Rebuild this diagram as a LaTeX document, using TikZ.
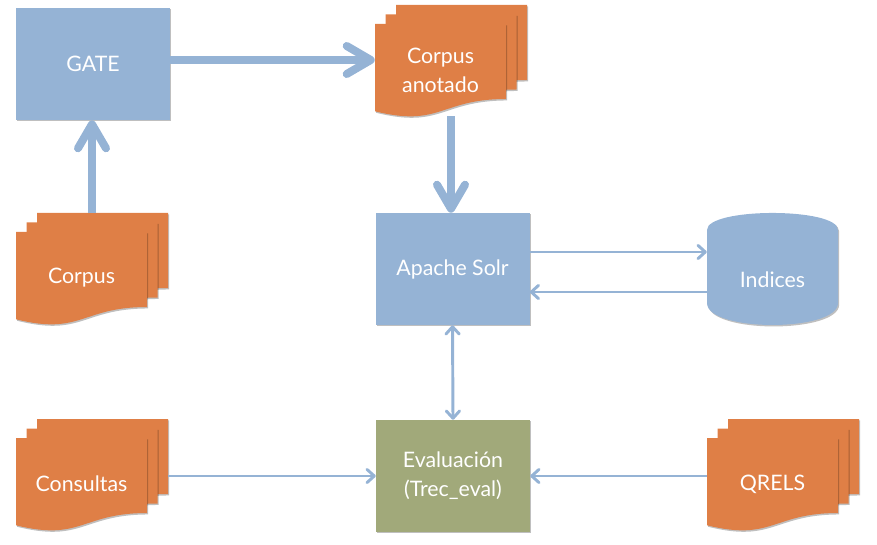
\documentclass[tikz,border=0pt]{standalone}
\usepackage{fontspec}
\setmainfont{Lato}
\usetikzlibrary{arrows.meta,fit,shadows}
\definecolor{boxblue}{RGB}{149,179,213}
\definecolor{docorange}{RGB}{223,127,70}
\definecolor{evalgreen}{RGB}{161,169,122}
\def\px{0.75pt}
\tikzset{
  softshadow/.style={drop shadow={shadow xshift=0.9pt, shadow yshift=-1.1pt, opacity=0.25, fill=black}},
  lbl/.style={text=white, font=\fontsize{16}{21.75}\selectfont, align=center},
  procbox/.style={rectangle, fill=#1, minimum width=154*\px, minimum height=112*\px, inner sep=0pt, softshadow},
  helper/.style={inner sep=0pt, draw=none},
  bigarrow/.style={draw=boxblue, line width=6pt, line cap=butt, -{Straight Barb[round, length=18pt, width=21pt]}},
  thinarrow/.style={draw=boxblue, line width=2.2pt, line cap=butt, -{Straight Barb[round, length=5.5pt, width=10pt]}},
  thinboth/.style={draw=boxblue, line width=2.2pt, line cap=butt, {Straight Barb[round, length=5.5pt, width=10pt]}-{Straight Barb[round, length=5.5pt, width=10pt]}},
}
\newcommand\docsheet[2]{%
  \begin{scope}[shift={(#1,#2)}]
    \fill[docorange, softshadow] (0,0) -- (131,0) -- (131,75)
      .. controls (65.5,75) and (65.5,103.6) .. (0,87.3) -- cycle;
  \end{scope}}
\newcommand\multidoc[4]{%
  \docsheet{#2+21}{#3-19}
  \docsheet{#2+10.5}{#3-9.5}
  \docsheet{#2}{#3}
  \node[helper, fit={(#2,#3-19) (#2+152,#3+92)}] (#1) {};
  \node[lbl] (#1-t) at (#2+65.5,#3+46) {#4};}
\begin{document}
\begin{tikzpicture}[x=0.75pt, y=-0.75pt]
\useasboundingbox (0,0) rectangle (877,545);

% process boxes
\node[procbox=boxblue, lbl] (gate) at (93,64) {GATE};
\node[procbox=boxblue, lbl] (solr) at (452.5,269) {Apache Solr};
\node[procbox=evalgreen, lbl] (eval) at (453,476) {Evaluación\\(Trec\_eval)};

% documents
\multidoc{corpus}{16}{232}{Corpus}
\multidoc{anot}{375}{24}{Corpus\\anotado}
\multidoc{cons}{16}{438}{Consultas}
\multidoc{qrels}{707}{438}{QRELS}

% database cylinder
\fill[boxblue, softshadow] (707,230) .. controls (707,207.3) and (838,207.3) .. (838,230)
  -- (838,303) .. controls (838,332.3) and (707,332.3) .. (707,303) -- cycle;
\node[helper, fit={(707,213) (838,325)}] (idx) {};
\node[lbl] (idx-t) at (772.5,280) {Indices};

% connectors
\draw[bigarrow] ([yshift=3pt]gate.east) -- ([yshift=3pt]gate.east -| anot.west);
\draw[bigarrow] (corpus.north) -- (corpus.north |- gate.south);
\draw[bigarrow] (anot.south) -- (anot.south |- solr.north);
\draw[thinarrow] ([yshift=12.75pt]solr.east) -- ([yshift=12.75pt]solr.east -| idx.west);
\draw[thinarrow] ([yshift=-17.25pt]solr.east -| idx.west) -- ([yshift=-17.25pt]solr.east);
\draw[thinboth] (solr.south) -- (eval.north);
\draw[thinarrow] (cons.east |- eval.west) -- (eval.west);
\draw[thinarrow] (qrels.west |- eval.east) -- (eval.east);
\end{tikzpicture}
\end{document}
